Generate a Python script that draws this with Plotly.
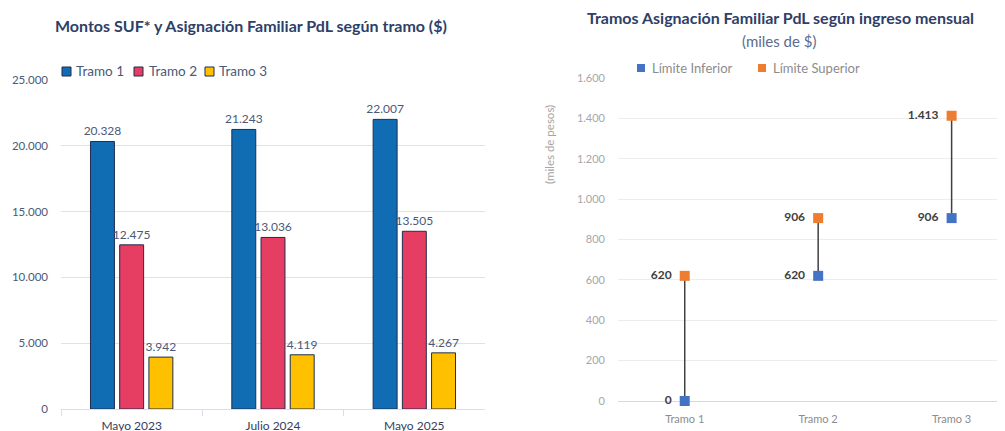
import plotly.graph_objects as go

# left chart data
periodos = ["Mayo 2023", "Julio 2024", "Mayo 2025"]
tramo1 = [20328, 21243, 22007]
tramo2 = [12475, 13036, 13505]
tramo3 = [3942, 4119, 4267]

# right chart data (miles de $)
tramos = ["Tramo 1", "Tramo 2", "Tramo 3"]
limite_inferior = [0, 620, 906]
limite_superior = [620, 906, 1413]

FONT = "Lato"
NAVY = "#2E4068"
SLATE = "#4A5A78"

# page body has an 8px margin, so the figure is a bit smaller than the window
W, H, OFF = 997, 423, 8


def px_x(x):
    return (x - OFF) / W


def px_y(y):
    return 1 - (y - OFF) / H


fig = go.Figure()

bar_series = [
    ("Tramo 1", tramo1, "#106DB3"),
    ("Tramo 2", tramo2, "#E63D63"),
    ("Tramo 3", tramo3, "#FFC000"),
]
for name, vals, color in bar_series:
    fig.add_trace(go.Bar(
        x=periodos, y=vals, name=name,
        marker=dict(color=color, line=dict(color="#1E2E4F", width=1)),
        text=vals, texttemplate="%{y:,}", textposition="outside",
        constraintext="none",
        textfont=dict(family=FONT, size=12, color=SLATE),
        cliponaxis=False, showlegend=False,
        xaxis="x", yaxis="y",
    ))

# vertical range lines as error bars from the lower limit
diff = [s - i for s, i in zip(limite_superior, limite_inferior)]
fig.add_trace(go.Scatter(
    x=tramos, y=limite_inferior, name="Límite Inferior", mode="markers+text",
    marker=dict(symbol="square", size=10, color="#4472C4"),
    error_y=dict(type="data", symmetric=False, array=diff, arrayminus=[0] * 3,
                 width=0, thickness=1.5, color="#404040"),
    text=limite_inferior, texttemplate="%{y:,}  ", textposition="middle left",
    textfont=dict(family=FONT, size=12, color="#404040", weight="bold"),
    cliponaxis=False, showlegend=False,
    xaxis="x2", yaxis="y2",
))
fig.add_trace(go.Scatter(
    x=tramos, y=limite_superior, name="Límite Superior", mode="markers+text",
    marker=dict(symbol="square", size=10, color="#ED7D31"),
    text=limite_superior, texttemplate="%{y:,}  ", textposition="middle left",
    textfont=dict(family=FONT, size=12, color="#404040", weight="bold"),
    cliponaxis=False, showlegend=False,
    xaxis="x2", yaxis="y2",
))

# legend drawn by hand so the swatches sit right next to the labels
shapes = []
annotations = []
left_legend = [("Tramo 1", "#106DB3", 62, 74), ("Tramo 2", "#E63D63", 134, 147),
               ("Tramo 3", "#FFC000", 205, 217)]
for label, color, sx, tx in left_legend:
    shapes.append(dict(type="rect", xref="paper", yref="paper",
                       x0=px_x(sx), x1=px_x(sx + 9), y0=px_y(76), y1=px_y(67),
                       fillcolor=color, line=dict(color="#1E2E4F", width=1)))
    annotations.append(dict(text=label, x=px_x(tx), y=px_y(71), xanchor="left",
                            yanchor="middle", xref="paper", yref="paper",
                            showarrow=False, font=dict(size=13.5, color=SLATE)))
right_legend = [("Límite Inferior", "#4472C4", 637, 650),
                ("Límite Superior", "#ED7D31", 758, 771)]
for label, color, sx, tx in right_legend:
    shapes.append(dict(type="rect", xref="paper", yref="paper",
                       x0=px_x(sx), x1=px_x(sx + 8), y0=px_y(72), y1=px_y(64),
                       fillcolor=color, line=dict(width=0)))
    annotations.append(dict(text=label, x=px_x(tx), y=px_y(68), xanchor="left",
                            yanchor="middle", xref="paper", yref="paper",
                            showarrow=False, font=dict(size=13, color="#8C8C8C")))

annotations += [
    dict(text="<b>Montos SUF* y Asignación Familiar PdL según tramo ($)</b>",
         x=px_x(251), y=px_y(26), xref="paper", yref="paper", showarrow=False,
         xanchor="center", yanchor="middle", font=dict(size=16, color=NAVY)),
    dict(text="<b>Tramos Asignación Familiar PdL según ingreso mensual</b>",
         x=px_x(780), y=px_y(17), xref="paper", yref="paper", showarrow=False,
         xanchor="center", yanchor="middle", font=dict(size=16, color=NAVY)),
    dict(text="(miles de $)",
         x=px_x(779), y=px_y(41), xref="paper", yref="paper", showarrow=False,
         xanchor="center", yanchor="middle", font=dict(size=15, color="#5B6C8F")),
    dict(text="(miles de pesos)", textangle=-90,
         x=px_x(549), y=px_y(145), xref="paper", yref="paper", showarrow=False,
         xanchor="center", yanchor="middle", font=dict(size=11.5, color="#A6A6A6")),
]

fig.update_layout(
    width=W, height=H,
    template="none",
    separators=",.",
    margin=dict(l=0, r=0, t=0, b=0),
    paper_bgcolor="white", plot_bgcolor="white",
    font=dict(family=FONT),
    showlegend=False,
    barmode="group", bargap=0.38, bargroupgap=0.18,
    xaxis=dict(
        domain=[px_x(61), px_x(485)], automargin=False,
        showline=True, linecolor="#D5DFEF", linewidth=1,
        ticks="outside", tickson="boundaries", ticklen=6, tickcolor="#D5DFEF",
        tickfont=dict(size=12, color="#33415E"), showgrid=False,
        ticklabelstandoff=6,
    ),
    yaxis=dict(
        domain=[px_y(409), px_y(80)], automargin=False, anchor="x",
        range=[0, 25000], dtick=5000, tickformat=",d",
        gridcolor="#D8E3F4", zeroline=False, showline=False,
        tickfont=dict(size=11.5, color=SLATE), ticks="", ticklabelstandoff=12,
    ),
    xaxis2=dict(
        domain=[px_x(618), 1.0], automargin=False, anchor="y2",
        range=[-0.5, 2.4], showline=False, showgrid=False, ticks="",
        tickfont=dict(size=11, color="#8C8C8C"), ticklabelstandoff=10,
    ),
    yaxis2=dict(
        domain=[px_y(401), px_y(78)], automargin=False, anchor="x2",
        range=[0, 1600], dtick=200, tickformat=",d",
        gridcolor="#EDEDED", zeroline=True, zerolinecolor="#D9D9D9", zerolinewidth=1,
        showline=False, ticks="",
        tickfont=dict(size=11, color="#A6A6A6"), ticklabelstandoff=12,
    ),
    shapes=shapes,
    annotations=annotations,
)

fig.write_html("out.html")
